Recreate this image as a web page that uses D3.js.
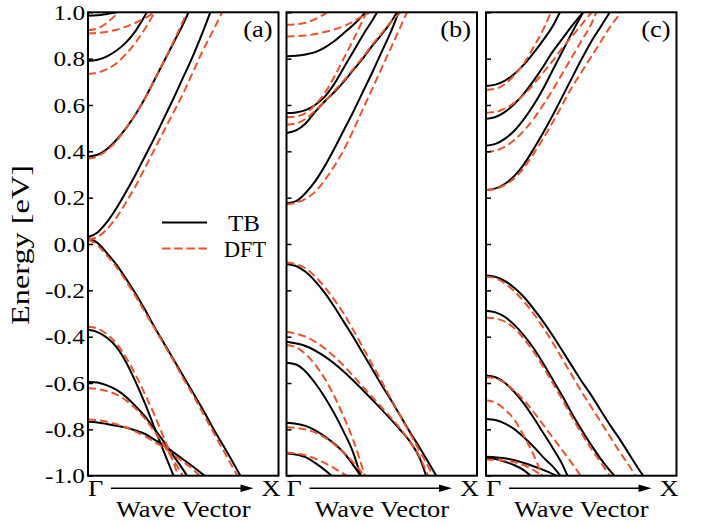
<!DOCTYPE html>
<html>
<head>
<meta charset="utf-8">
<script src="https://cdn.jsdelivr.net/npm/d3@7"></script>
<style>
  body { margin: 0; background: #fff; }
  svg text { font-family: "Liberation Serif", "Times New Roman", Times, serif; }
</style>
</head>
<body>
<div id="container"></div>
<script>
// energy axis ticks and panel labels
const energyTicks = [-1.0, -0.8, -0.6, -0.4, -0.2, 0.0, 0.2, 0.4, 0.6, 0.8, 1.0];
const panelLabels = ["(a)", "(b)", "(c)"];
const legendNames = ["TB", "DFT"];

// bands as [k (fraction of Gamma->X), energy eV]
const tbA = [
  [[0,0.03],[0.05,0.05],[0.1,0.095],[0.15,0.155],[0.2,0.225],[0.25,0.3],[0.3,0.38],[0.35,0.46],[0.4,0.545],[0.45,0.63],[0.5,0.72],[0.55,0.81],[0.6,0.91],[0.642,1.0]],
  [[0,0.377],[0.05,0.385],[0.1,0.41],[0.15,0.45],[0.2,0.5],[0.25,0.56],[0.3,0.63],[0.35,0.71],[0.4,0.79],[0.45,0.87],[0.5,0.95],[0.528,1.0]],
  [[0,0.79],[0.05,0.795],[0.1,0.81],[0.15,0.835],[0.2,0.87],[0.25,0.92],[0.309,1.0]],
  [[0,0.985],[0.05,0.987],[0.1,0.993],[0.15,1.0]],
  [[0,0.025],[0.05,0.005],[0.1,-0.04],[0.15,-0.09],[0.2,-0.15],[0.25,-0.215],[0.3,-0.285],[0.35,-0.36],[0.4,-0.43],[0.45,-0.5],[0.5,-0.57],[0.55,-0.64],[0.6,-0.71],[0.65,-0.785],[0.7,-0.856],[0.75,-0.927],[0.8,-1.0]],
  [[0,-0.37],[0.05,-0.38],[0.1,-0.405],[0.15,-0.445],[0.2,-0.51],[0.25,-0.595],[0.3,-0.69],[0.35,-0.795],[0.4,-0.9],[0.449,-1.0]],
  [[0,-0.594],[0.05,-0.598],[0.1,-0.61],[0.15,-0.63],[0.2,-0.66],[0.25,-0.7],[0.3,-0.745],[0.35,-0.8],[0.4,-0.855],[0.45,-0.915],[0.5,-0.975],[0.519,-1.0]],
  [[0,-0.767],[0.05,-0.77],[0.1,-0.777],[0.15,-0.785],[0.2,-0.792],[0.25,-0.805],[0.3,-0.82],[0.35,-0.845],[0.4,-0.87],[0.45,-0.9],[0.5,-0.93],[0.55,-0.96],[0.612,-1.0]]
];
const dftA = [
  [[0,0.02],[0.05,0.03],[0.1,0.065],[0.15,0.115],[0.2,0.18],[0.25,0.25],[0.3,0.33],[0.35,0.41],[0.4,0.49],[0.45,0.57],[0.5,0.65],[0.55,0.74],[0.6,0.83],[0.65,0.91],[0.704,1.0]],
  [[0,0.368],[0.05,0.378],[0.1,0.405],[0.15,0.445],[0.2,0.5],[0.25,0.56],[0.3,0.63],[0.35,0.71],[0.4,0.79],[0.45,0.875],[0.52,1.0]],
  [[0,0.734],[0.05,0.74],[0.1,0.755],[0.15,0.78],[0.2,0.82],[0.25,0.87],[0.3,0.93],[0.35,1.0]],
  [[0,0.923],[0.05,0.93],[0.1,0.955],[0.16,1.0]],
  [[0,0.909],[0.05,0.911],[0.1,0.916],[0.15,0.925],[0.2,0.938],[0.25,0.955],[0.3,0.975],[0.35,1.0]],
  [[0,0.02],[0.05,-0.005],[0.1,-0.05],[0.15,-0.1],[0.2,-0.16],[0.25,-0.225],[0.3,-0.295],[0.35,-0.365],[0.4,-0.435],[0.45,-0.505],[0.5,-0.58],[0.55,-0.65],[0.6,-0.725],[0.65,-0.8],[0.7,-0.875],[0.75,-0.95],[0.785,-1.0]],
  [[0,-0.357],[0.05,-0.365],[0.1,-0.39],[0.15,-0.43],[0.2,-0.49],[0.25,-0.565],[0.3,-0.65],[0.35,-0.74],[0.4,-0.84],[0.45,-0.945],[0.472,-1.0]],
  [[0,-0.623],[0.05,-0.626],[0.1,-0.635],[0.15,-0.65],[0.2,-0.675],[0.25,-0.71],[0.3,-0.755],[0.35,-0.81],[0.4,-0.87],[0.45,-0.935],[0.498,-1.0]],
  [[0,-0.757],[0.05,-0.76],[0.1,-0.767],[0.15,-0.778],[0.2,-0.792],[0.25,-0.81],[0.3,-0.83],[0.35,-0.855],[0.4,-0.88],[0.45,-0.91],[0.5,-0.94],[0.55,-0.972],[0.586,-1.0]]
];

const tbB = [
  [[0,0.176],[0.05,0.185],[0.1,0.22],[0.15,0.27],[0.2,0.335],[0.25,0.41],[0.3,0.49],[0.35,0.57],[0.4,0.655],[0.45,0.74],[0.5,0.83],[0.55,0.92],[0.589,1.0]],
  [[0,0.479],[0.05,0.49],[0.1,0.52],[0.15,0.57],[0.2,0.615],[0.25,0.655],[0.3,0.7],[0.35,0.75],[0.4,0.8],[0.45,0.855],[0.5,0.905],[0.55,0.96],[0.58,1.0]],
  [[0,0.565],[0.05,0.568],[0.1,0.578],[0.15,0.6],[0.2,0.635],[0.25,0.69],[0.3,0.76],[0.35,0.83],[0.4,0.9],[0.45,0.965],[0.475,1.0]],
  [[0,0.81],[0.05,0.812],[0.1,0.818],[0.15,0.828],[0.2,0.848],[0.25,0.875],[0.3,0.91],[0.35,0.945],[0.415,1.0]],
  [[0,-0.086],[0.05,-0.095],[0.1,-0.12],[0.15,-0.16],[0.2,-0.21],[0.25,-0.27],[0.3,-0.335],[0.35,-0.4],[0.4,-0.47],[0.45,-0.54],[0.5,-0.61],[0.55,-0.675],[0.6,-0.745],[0.65,-0.815],[0.7,-0.88],[0.75,-0.95],[0.786,-1.0]],
  [[0,-0.422],[0.1,-0.44],[0.2,-0.485],[0.3,-0.55],[0.4,-0.63],[0.5,-0.715],[0.6,-0.805],[0.65,-0.855],[0.7,-0.925],[0.733,-1.0]],
  [[0,-0.512],[0.05,-0.52],[0.1,-0.55],[0.15,-0.6],[0.2,-0.66],[0.25,-0.73],[0.3,-0.81],[0.35,-0.9],[0.389,-1.0]],
  [[0,-0.771],[0.1,-0.785],[0.2,-0.83],[0.3,-0.9],[0.389,-1.0]],
  [[0,-0.903],[0.1,-0.92],[0.15,-0.945],[0.2,-0.975],[0.237,-1.0]]
];
const dftB = [
  [[0,0.172],[0.05,0.178],[0.1,0.195],[0.15,0.225],[0.2,0.275],[0.25,0.335],[0.3,0.405],[0.35,0.49],[0.4,0.58],[0.45,0.67],[0.5,0.76],[0.55,0.85],[0.6,0.94],[0.632,1.0]],
  [[0,0.515],[0.05,0.52],[0.1,0.54],[0.15,0.575],[0.2,0.615],[0.25,0.66],[0.3,0.705],[0.35,0.755],[0.4,0.805],[0.45,0.86],[0.5,0.91],[0.55,0.96],[0.6,1.0]],
  [[0,0.547],[0.05,0.55],[0.1,0.565],[0.15,0.6],[0.2,0.65],[0.25,0.72],[0.3,0.8],[0.35,0.88],[0.42,1.0]],
  [[0,0.896],[0.1,0.9],[0.2,0.915],[0.3,0.94],[0.35,0.96],[0.4,0.985],[0.44,1.0]],
  [[0,0.946],[0.05,0.948],[0.1,0.955],[0.15,0.97],[0.214,1.0]],
  [[0,-0.08],[0.05,-0.087],[0.1,-0.105],[0.15,-0.14],[0.2,-0.185],[0.25,-0.24],[0.3,-0.3],[0.35,-0.37],[0.4,-0.445],[0.45,-0.52],[0.5,-0.595],[0.55,-0.67],[0.6,-0.745],[0.65,-0.82],[0.7,-0.895],[0.75,-0.97],[0.768,-1.0]],
  [[0,-0.379],[0.1,-0.4],[0.2,-0.45],[0.3,-0.525],[0.4,-0.615],[0.5,-0.705],[0.6,-0.8],[0.65,-0.855],[0.7,-0.92],[0.743,-1.0]],
  [[0,-0.436],[0.05,-0.445],[0.1,-0.475],[0.15,-0.52],[0.2,-0.58],[0.25,-0.655],[0.3,-0.745],[0.35,-0.845],[0.411,-1.0]],
  [[0,-0.791],[0.1,-0.8],[0.2,-0.835],[0.3,-0.9],[0.41,-1.0]],
  [[0,-0.9],[0.1,-0.912],[0.2,-0.945],[0.315,-1.0]]
];

const tbC = [
  [[0,0.233],[0.05,0.24],[0.1,0.26],[0.15,0.295],[0.2,0.345],[0.25,0.41],[0.3,0.48],[0.35,0.555],[0.4,0.635],[0.45,0.715],[0.5,0.795],[0.55,0.87],[0.6,0.935],[0.65,1.0]],
  [[0,0.424],[0.05,0.432],[0.1,0.455],[0.15,0.49],[0.2,0.54],[0.25,0.6],[0.3,0.67],[0.35,0.75],[0.4,0.83],[0.45,0.91],[0.51,1.0]],
  [[0,0.54],[0.05,0.548],[0.1,0.57],[0.15,0.605],[0.2,0.65],[0.25,0.705],[0.3,0.765],[0.35,0.83],[0.4,0.885],[0.45,0.94],[0.51,1.0]],
  [[0,0.682],[0.05,0.688],[0.1,0.705],[0.15,0.735],[0.2,0.775],[0.25,0.825],[0.3,0.88],[0.35,0.94],[0.388,1.0]],
  [[0,-0.136],[0.05,-0.142],[0.1,-0.16],[0.15,-0.19],[0.2,-0.23],[0.25,-0.28],[0.3,-0.335],[0.35,-0.395],[0.4,-0.46],[0.45,-0.525],[0.5,-0.59],[0.55,-0.65],[0.6,-0.715],[0.65,-0.78],[0.7,-0.84],[0.75,-0.905],[0.8,-0.97],[0.825,-1.0]],
  [[0,-0.288],[0.05,-0.295],[0.1,-0.315],[0.15,-0.35],[0.2,-0.395],[0.25,-0.45],[0.3,-0.515],[0.35,-0.585],[0.4,-0.655],[0.45,-0.73],[0.5,-0.8],[0.55,-0.865],[0.6,-0.925],[0.673,-1.0]],
  [[0,-0.567],[0.05,-0.575],[0.1,-0.6],[0.15,-0.64],[0.2,-0.69],[0.25,-0.75],[0.3,-0.815],[0.35,-0.88],[0.4,-0.95],[0.428,-1.0]],
  [[0,-0.755],[0.05,-0.76],[0.1,-0.775],[0.15,-0.8],[0.2,-0.835],[0.25,-0.875],[0.3,-0.92],[0.35,-0.96],[0.39,-1.0]],
  [[0,-0.918],[0.1,-0.925],[0.2,-0.945],[0.3,-0.975],[0.37,-1.0]],
  [[0,-0.925],[0.05,-0.928],[0.1,-0.94],[0.15,-0.955],[0.2,-0.977],[0.234,-1.0]]
];
const dftC = [
  [[0,0.233],[0.05,0.238],[0.1,0.255],[0.15,0.285],[0.2,0.33],[0.25,0.39],[0.3,0.455],[0.35,0.525],[0.4,0.6],[0.45,0.675],[0.5,0.74],[0.55,0.805],[0.6,0.87],[0.65,0.935],[0.71,1.0]],
  [[0,0.396],[0.05,0.403],[0.1,0.42],[0.15,0.45],[0.2,0.49],[0.25,0.54],[0.3,0.6],[0.35,0.665],[0.4,0.735],[0.45,0.805],[0.5,0.875],[0.55,0.945],[0.58,1.0]],
  [[0,0.567],[0.05,0.57],[0.1,0.585],[0.15,0.61],[0.2,0.645],[0.25,0.69],[0.3,0.74],[0.35,0.79],[0.4,0.845],[0.45,0.895],[0.5,0.945],[0.554,1.0]],
  [[0,0.665],[0.05,0.67],[0.1,0.69],[0.15,0.73],[0.2,0.78],[0.25,0.85],[0.3,0.925],[0.341,1.0]],
  [[0,-0.14],[0.05,-0.148],[0.1,-0.17],[0.15,-0.205],[0.2,-0.25],[0.25,-0.3],[0.3,-0.36],[0.35,-0.425],[0.4,-0.495],[0.45,-0.565],[0.5,-0.635],[0.55,-0.7],[0.6,-0.765],[0.65,-0.83],[0.7,-0.895],[0.75,-0.955],[0.785,-1.0]],
  [[0,-0.318],[0.05,-0.322],[0.1,-0.335],[0.15,-0.365],[0.2,-0.41],[0.25,-0.465],[0.3,-0.53],[0.35,-0.6],[0.4,-0.67],[0.45,-0.745],[0.5,-0.815],[0.55,-0.88],[0.6,-0.94],[0.65,-1.0]],
  [[0,-0.574],[0.05,-0.58],[0.1,-0.6],[0.15,-0.635],[0.2,-0.675],[0.25,-0.725],[0.3,-0.78],[0.35,-0.835],[0.4,-0.89],[0.45,-0.945],[0.497,-1.0]],
  [[0,-0.674],[0.05,-0.685],[0.1,-0.715],[0.15,-0.76],[0.2,-0.83],[0.25,-0.91],[0.295,-1.0]],
  [[0,-0.93],[0.1,-0.935],[0.2,-0.955],[0.295,-1.0]]
];

const tbBands = [tbA, tbB, tbC];
const dftBands = [dftA, dftB, dftC];

const width = 702, height = 525;
const panelLeft = [88, 286.5, 486];
const panelW = 190.5;
const plotTop = 12.3, plotBottom = 475.7;
const red = "#e9532d";
const sx = 1.15; // glyphs in the original are a bit wide

const svg = d3.select("#container").append("svg")
  .attr("width", width)
  .attr("height", height)
  .style("background", "#fff");

const y = d3.scaleLinear().domain([-1, 1]).range([plotBottom, plotTop]);

// wide text helper
function wideText(g, x, yy, str, size, anchor) {
  return g.append("text")
    .attr("transform", `translate(${x},${yy}) scale(${sx},1)`)
    .attr("font-size", size)
    .attr("text-anchor", anchor)
    .attr("fill", "#000")
    .text(str);
}

const defs = svg.append("defs");

panelLeft.forEach((x0, i) => {
  const x = d3.scaleLinear().domain([0, 1]).range([x0, x0 + panelW]);
  const g = svg.append("g");

  defs.append("clipPath").attr("id", "clip" + i)
    .append("rect")
    .attr("x", x0).attr("y", plotTop)
    .attr("width", panelW).attr("height", plotBottom - plotTop);

  const line = d3.line()
    .x(d => x(d[0]))
    .y(d => y(d[1]))
    .curve(d3.curveMonotoneX);

  const curves = g.append("g").attr("clip-path", `url(#clip${i})`);

  curves.selectAll("path.tb")
    .data(tbBands[i])
    .join("path")
    .attr("class", "tb")
    .attr("d", line)
    .attr("fill", "none")
    .attr("stroke", "#000")
    .attr("stroke-width", 2);

  curves.selectAll("path.dft")
    .data(dftBands[i])
    .join("path")
    .attr("class", "dft")
    .attr("d", line)
    .attr("fill", "none")
    .attr("stroke", red)
    .attr("stroke-width", 2)
    .attr("stroke-dasharray", "8,4");

  // left axis, ticks pointing inward
  const axis = d3.axisLeft(y)
    .tickValues(energyTicks)
    .tickSize(-5)
    .tickPadding(4)
    .tickFormat(d => i === 0 ? d.toFixed(1) : "");

  const ag = g.append("g")
    .attr("transform", `translate(${x0},0)`)
    .call(axis);
  ag.attr("font-family", null);
  ag.select(".domain").remove();
  ag.selectAll(".tick line").attr("stroke", "#000").attr("stroke-width", 1.5);
  ag.selectAll(".tick text")
    .attr("font-size", 22)
    .attr("fill", "#000")
    .attr("x", -3 / sx)
    .attr("transform", `scale(${sx},1)`);

  g.append("rect")
    .attr("x", x0).attr("y", plotTop)
    .attr("width", panelW).attr("height", plotBottom - plotTop)
    .attr("fill", "none")
    .attr("stroke", "#000")
    .attr("stroke-width", 2);

  wideText(g, x0 + panelW - 6, 37, panelLabels[i], 23, "end");

  // k-path labels
  wideText(g, x0, 496, "\u0393", 23, "start");
  wideText(g, x0 + panelW + 2, 496, "X", 23, "end");
  const ay = 488.3;
  const ax1 = x0 + 23, ax2 = x0 + panelW - 25;
  g.append("line")
    .attr("x1", ax1).attr("x2", ax2 - 8)
    .attr("y1", ay).attr("y2", ay)
    .attr("stroke", "#000").attr("stroke-width", 1.6);
  g.append("path")
    .attr("d", `M${ax2},${ay} L${ax2 - 13},${ay - 3.8} L${ax2 - 13},${ay + 3.8} Z`)
    .attr("fill", "#000");

  wideText(g, x0 + panelW / 2, 516.5, "Wave Vector", 23, "middle");
});

// legend in panel (a)
const lg = svg.append("g");
lg.append("line")
  .attr("x1", 162).attr("x2", 207).attr("y1", 222.5).attr("y2", 222.5)
  .attr("stroke", "#000").attr("stroke-width", 2);
lg.append("line")
  .attr("x1", 162).attr("x2", 207).attr("y1", 248.5).attr("y2", 248.5)
  .attr("stroke", red).attr("stroke-width", 2).attr("stroke-dasharray", "8.5,3.7");
lg.selectAll("text")
  .data(legendNames)
  .join("text")
  .attr("x", (d, j) => j === 0 ? 228 : 224)
  .attr("y", (d, j) => j === 0 ? 230.5 : 257)
  .attr("font-size", 23)
  .attr("fill", "#000")
  .attr("textLength", (d, j) => j === 0 ? 32 : 42)
  .attr("lengthAdjust", "spacingAndGlyphs")
  .text(d => d);

// y label
svg.append("text")
  .attr("transform", "translate(29,245) rotate(-90)")
  .attr("font-size", 26)
  .attr("text-anchor", "middle")
  .attr("textLength", 160)
  .attr("lengthAdjust", "spacingAndGlyphs")
  .attr("fill", "#000")
  .text("Energy [eV]");
</script>
</body>
</html>
